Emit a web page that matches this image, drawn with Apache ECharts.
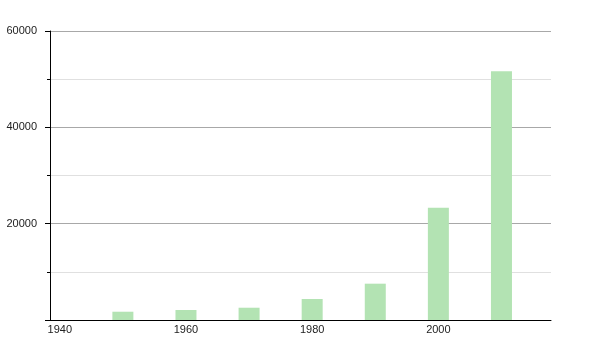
<!DOCTYPE html>
<html><head><meta charset="utf-8">
<script src="https://cdn.jsdelivr.net/npm/echarts@6/dist/echarts.min.js"></script>
<style>html,body{margin:0;padding:0;background:#fff}#c{width:600px;height:350px}</style>
</head><body><div id="c"></div>
<script>
var years = [1950, 1960, 1970, 1980, 1990, 2000, 2010];
var values = [1720, 2080, 2550, 4360, 7540, 23310, 51630];
var xTickLabels = [1940, 1960, 1980, 2000];

var chart = echarts.init(document.getElementById('c'), null, {renderer: 'canvas'});
chart.setOption({
  animation: false,
  grid: {left: 50, right: 49, top: 31, bottom: 30},
  xAxis: {
    type: 'value', min: 1938.45, max: 2017.85,
    axisLine: {show: true, lineStyle: {color: '#000', width: 1}},
    axisTick: {show: false},
    splitLine: {show: false},
    axisLabel: {customValues: xTickLabels, color: '#222', fontFamily: 'Liberation Sans', fontSize: 11, margin: 4,
      formatter: function (v) { return String(v); }}
  },
  yAxis: {
    type: 'value', min: 0, max: 60000, interval: 20000,
    axisLine: {show: true, lineStyle: {color: '#000', width: 1}},
    axisTick: {show: true, length: 5, lineStyle: {color: '#000'}},
    minorTick: {show: true, splitNumber: 2, length: 3, lineStyle: {color: '#000'}},
    splitLine: {show: true, lineStyle: {color: '#a8a8a8', width: 1}},
    minorSplitLine: {show: true, lineStyle: {color: '#e0e0e0', width: 1}},
    axisLabel: {color: '#222', fontFamily: 'Liberation Sans', fontSize: 11, margin: 13,
      formatter: function (v) { return v === 0 ? '' : String(v); }}
  },
  series: [{
    type: 'bar',
    barWidth: 21,
    itemStyle: {color: '#b3e3b3'},
    data: years.map(function (y, i) { return [y, values[i]]; })
  }]
});
</script></body></html>
